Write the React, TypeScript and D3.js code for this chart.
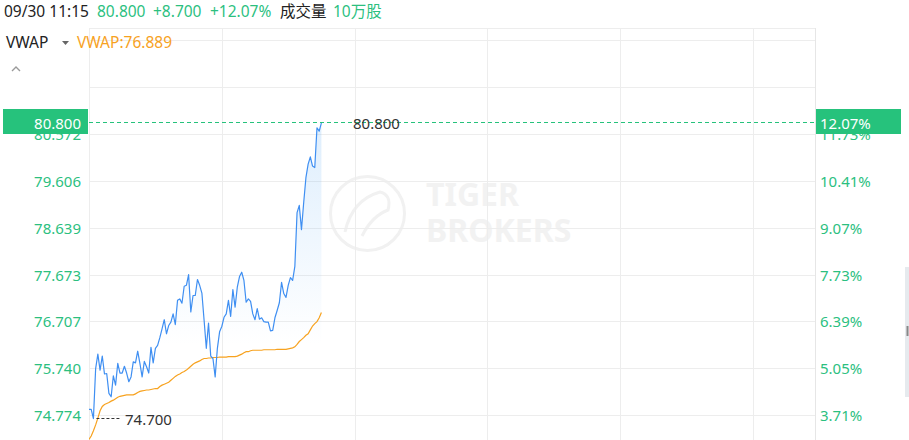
import React from 'react';
import * as d3 from 'd3';

// ---- data ----
const minuteIndex = d3.range(0, 106); // 09:30 .. 11:15, one point per minute
const prices = [
  74.89, 74.89, 74.70, 75.73, 76.03, 75.70, 75.99, 75.62, 75.63, 75.22,
  75.15, 75.58, 75.39, 75.84, 75.64, 75.64, 75.78, 75.64, 75.46, 75.56,
  75.87, 75.85, 76.09, 75.84, 75.56, 75.88, 75.77, 75.64, 76.17, 75.85,
  76.15, 76.21, 76.37, 76.55, 76.74, 76.45, 76.62, 76.69, 76.86, 76.64,
  77.14, 77.17, 77.08, 77.43, 77.45, 77.67, 76.90, 77.24, 77.24, 77.57,
  77.45, 77.29, 76.73, 76.15, 76.67, 75.99, 75.94, 75.56, 76.15, 76.49,
  76.60, 76.79, 76.86, 77.14, 76.81, 77.36, 77.00, 77.41, 77.63, 77.72,
  77.55, 77.10, 77.17, 77.12, 76.86, 76.74, 76.97, 76.75, 76.78, 76.70,
  76.69, 76.69, 76.51, 76.52, 76.78, 76.93, 77.09, 77.51, 77.28, 77.20,
  77.45, 77.61, 77.55, 77.84, 78.95, 79.10, 78.60, 79.16, 79.67, 79.95,
  80.10, 79.91, 79.88, 80.70, 80.63, 80.80,
];
const vwap = [
  74.27, 74.34, 74.45, 74.57, 74.71, 74.86, 74.95, 74.99, 75.01, 75.03,
  75.06, 75.08, 75.11, 75.14, 75.16, 75.17, 75.18, 75.19, 75.19, 75.19,
  75.19, 75.21, 75.24, 75.26, 75.27, 75.28, 75.29, 75.29, 75.30, 75.31,
  75.32, 75.32, 75.36, 75.39, 75.41, 75.43, 75.45, 75.49, 75.53, 75.57,
  75.60, 75.62, 75.65, 75.67, 75.70, 75.74, 75.78, 75.82, 75.85, 75.87,
  75.89, 75.92, 75.94, 75.94, 75.95, 75.95, 75.96, 75.96, 75.96, 75.97,
  75.97, 75.97, 75.97, 75.98, 75.98, 75.98, 75.98, 75.99, 76.01, 76.03,
  76.06, 76.08, 76.08, 76.10, 76.11, 76.11, 76.11, 76.11, 76.11, 76.12,
  76.12, 76.12, 76.12, 76.12, 76.12, 76.13, 76.13, 76.13, 76.13, 76.13,
  76.14, 76.15, 76.16, 76.18, 76.23, 76.29, 76.33, 76.37, 76.42, 76.45,
  76.53, 76.61, 76.66, 76.70, 76.78, 76.889,
];
const priceTicks = [74.774, 75.740, 76.707, 77.673, 78.639, 79.606, 80.572];
const priceTickLabels = ['74.774', '75.740', '76.707', '77.673', '78.639', '79.606', '80.572'];
const pctTickLabels = ['3.71%', '5.05%', '6.39%', '7.73%', '9.07%', '10.41%', '11.73%'];
const extraGridPrices = [81.539, 82.505];
const timeGridMinutes = [60, 120, 180, 240, 300];
const sessionMinutes = 328;

const headerTime = '09/30 11:15';
const lastPriceLabel = '80.800';
const changeLabel = '+8.700';
const pctLabel = '+12.07%';
const volLabel = '成交量';
const volValue = '10万股';
const vwapLabel = 'VWAP:76.889';
const lastPrice = 80.8;
const lastPct = '12.07%';
const lowPrice = 74.7;
const lowLabel = '74.700';

// ---- styles ----
const GREEN = '#26c27c';
const GREEN_TXT = '#2cbf7f';
const BLUE = '#3f8ff2';
const ORANGE = '#f7a21f';
const GRID = '#ededed';
const FONT = '"Noto Sans", "Noto Sans CJK SC", sans-serif';

const W = 909;
const H = 440;
const left = 89;
const right = 815;
const top = 28;
const bottom = 440;

export default function App() {
  const x = d3.scaleLinear().domain([0, sessionMinutes]).range([left, right]);
  const y = d3.scaleLinear().domain([priceTicks[0], priceTicks[priceTicks.length - 1]]).range([415, 134]);

  const pts = minuteIndex.map((m, i) => ({ m, p: prices[i], v: vwap[i] }));
  const priceLine = d3.line<any>().x((d) => x(d.m)).y((d) => y(d.p));
  const priceArea = d3.area<any>().x((d) => x(d.m)).y0(bottom).y1((d) => y(d.p));
  const vwapLine = d3.line<any>().x((d) => x(d.m)).y((d) => y(d.v));

  const yLast = Math.round(y(lastPrice)) - 0.5;
  const lowIdx = prices.indexOf(d3.min(prices) as number);
  const yLow = Math.round(y(lowPrice)) - 0.5;
  const xLow = x(minuteIndex[lowIdx]);
  const yMax = y(d3.max(prices) as number);

  return (
    <svg width={W} height={H} style={{ position: 'absolute', left: 0, top: 0, background: '#fff' }} fontFamily={FONT}>
      <defs>
        <linearGradient id="areaGrad" gradientUnits="userSpaceOnUse" x1="0" y1={yMax} x2="0" y2={345}>
          <stop offset="0" stopColor="#5aaaf5" stopOpacity={0.2} />
          <stop offset="1" stopColor="#5aaaf5" stopOpacity={0} />
        </linearGradient>
        <clipPath id="plotClip">
          <rect x={left} y={top} width={right - left} height={bottom - top} />
        </clipPath>
      </defs>

      {/* watermark */}
      <g>
        <circle cx={367.5} cy={213.5} r={37} fill="none" stroke="#f1f1f1" strokeWidth={3} />
        <path d="M345,232 Q352,200 380,192 Q392,195 388,210 Q372,216 362,236" fill="none" stroke="#f1f1f1" strokeWidth={3} />
        <text x={426} y={206} fontSize={32} fontWeight={700} fill="#f2f2f2">TIGER</text>
        <text x={426} y={242} fontSize={32} fontWeight={700} fill="#f2f2f2">BROKERS</text>
      </g>

      {/* grid */}
      <line x1={left} x2={right} y1={top + 0.5} y2={top + 0.5} stroke={GRID} />
      {[...priceTicks, ...extraGridPrices].map((p, i) => (
        <line key={'h' + i} x1={left} x2={right} y1={Math.round(y(p)) + 0.5} y2={Math.round(y(p)) + 0.5} stroke={GRID} />
      ))}
      {[0, ...timeGridMinutes].map((m, i) => (
        <line key={'v' + i} x1={Math.round(x(m)) + 0.5} x2={Math.round(x(m)) + 0.5} y1={top} y2={bottom} stroke={GRID} />
      ))}
      <line x1={right + 0.5} x2={right + 0.5} y1={top} y2={bottom} stroke="#e6e6e6" />

      {/* series */}
      <g clipPath="url(#plotClip)">
        <path d={priceArea(pts) as string} fill="url(#areaGrad)" />
        <path d={vwapLine(pts) as string} fill="none" stroke={ORANGE} strokeWidth={1.2} />
        <path d={priceLine(pts) as string} fill="none" stroke={BLUE} strokeWidth={1.2} strokeLinejoin="round" />
      </g>

      {/* last price dashed line */}
      <line x1={left} x2={right} y1={yLast} y2={yLast} stroke={GREEN} strokeDasharray="4 3" strokeWidth={1} />
      <text x={353} y={yLast} dominantBaseline="central" fontSize={15} fill="#333">{lastPriceLabel}</text>

      {/* low marker */}
      <line x1={xLow + 3} x2={xLow + 28} y1={yLow} y2={yLow} stroke="#333" strokeDasharray="3 2" strokeWidth={1} />
      <text x={125} y={yLow} dominantBaseline="central" fontSize={15} fill="#333">{lowLabel}</text>

      {/* left axis labels */}
      {priceTicks.map((p, i) => (
        <text key={'l' + i} x={81} y={y(p)} textAnchor="end" dominantBaseline="central" fontSize={15} fill={GREEN_TXT}>
          {priceTickLabels[i]}
        </text>
      ))}
      {/* right axis labels */}
      {priceTicks.map((p, i) => (
        <text key={'r' + i} x={820} y={y(p)} dominantBaseline="central" fontSize={15} fill={GREEN_TXT}>
          {pctTickLabels[i]}
        </text>
      ))}

      {/* badges */}
      <rect x={3} y={yLast - 13.5} width={85} height={25} fill={GREEN} />
      <text x={81} y={yLast} textAnchor="end" dominantBaseline="central" fontSize={15} fill="#fff">{lastPriceLabel}</text>
      <rect x={816} y={yLast - 13.5} width={85} height={25} fill={GREEN} />
      <text x={820} y={yLast} dominantBaseline="central" fontSize={15} fill="#fff">{lastPct}</text>

      {/* header */}
      <text y={17} fontSize={15.5}>
        <tspan x={4} fill="#222">{headerTime}</tspan>
        <tspan x={97} fill={GREEN_TXT}>{lastPriceLabel}</tspan>
        <tspan x={153} fill={GREEN_TXT}>{changeLabel}</tspan>
        <tspan x={210} fill={GREEN_TXT}>{pctLabel}</tspan>
        <tspan x={280} fill="#222">{volLabel}</tspan>
        <tspan x={333} fill={GREEN_TXT}>{volValue}</tspan>
      </text>
      <text y={48} fontSize={15.5}>
        <tspan x={6} fill="#222">VWAP</tspan>
        <tspan x={77} fill={ORANGE}>{vwapLabel}</tspan>
      </text>
      <path d="M62,41 L69,41 L65.5,45 Z" fill="#666" />
      <polyline points="12,71 16,67 20,71" fill="none" stroke="#9a9a9a" strokeWidth={1.4} />

      {/* right scroll handle */}
      <rect x={905} y={267} width={4} height={130} fill="#e6eaee" />
      <rect x={906.5} y={326} width={2} height={10} fill="#888" />
    </svg>
  );
}
